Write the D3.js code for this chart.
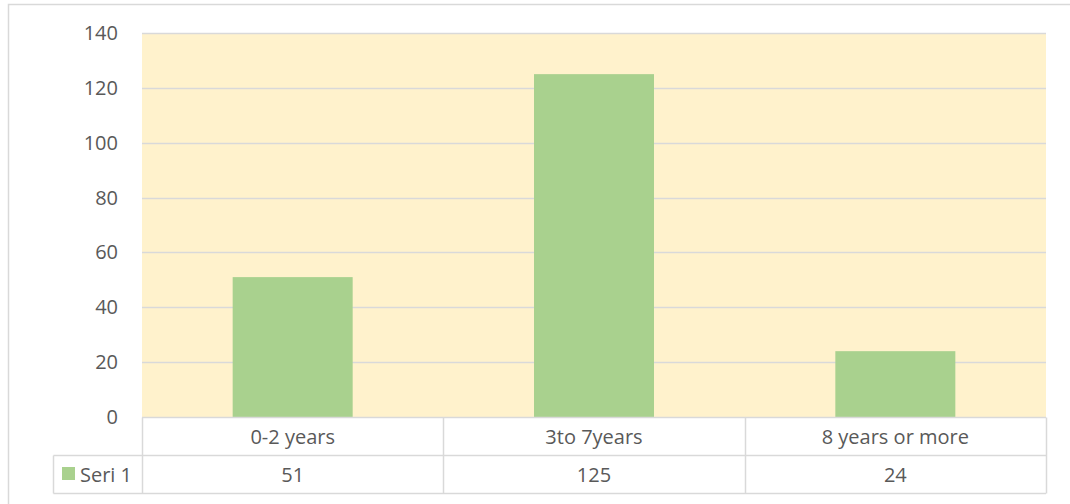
<!DOCTYPE html>
<html>
<head>
<meta charset="utf-8">
<script src="https://cdn.jsdelivr.net/npm/d3@7"></script>
<style>
  body { margin: 0; background: #fff; }
  text { font-family: "Open Sans", "Noto Sans", sans-serif; fill: #595959; }
</style>
</head>
<body>
<div id="chart"></div>
<script>
var categories = ["0-2 years", "3to 7years", "8 years or more"];
var values = [51, 125, 24];
var seriesName = "Seri 1";
var yTicks = [0, 20, 40, 60, 80, 100, 120, 140];

var W = 1070, H = 504;
var plot = { left: 142, top: 33, right: 1046, bottom: 417 };
var rowH = 38;
var fs = "20px";

var svg = d3.select("#chart").append("svg")
  .attr("width", W).attr("height", H);

// outer chart border (runs off the right/bottom edge)
svg.append("rect")
  .attr("x", 8.5).attr("y", 4.5)
  .attr("width", W + 20).attr("height", H + 20)
  .attr("fill", "#fff").attr("stroke", "#d9d9d9").attr("stroke-width", 1.5);

var x = d3.scaleBand().domain(categories)
  .range([plot.left, plot.right]).paddingInner(0).paddingOuter(0);
var y = d3.scaleLinear().domain([0, 140]).range([plot.bottom, plot.top]);

// plot background
svg.append("rect")
  .attr("x", plot.left).attr("y", plot.top)
  .attr("width", plot.right - plot.left).attr("height", plot.bottom - plot.top)
  .attr("fill", "#fff2cc");

// gridlines
svg.selectAll(".grid").data(yTicks.slice(1)).enter().append("line")
  .attr("x1", plot.left).attr("x2", plot.right)
  .attr("y1", function (d) { return Math.round(y(d)) + 0.5; })
  .attr("y2", function (d) { return Math.round(y(d)) + 0.5; })
  .attr("stroke", "#d9d9d9").attr("stroke-width", 1.3);

// y axis labels
svg.selectAll(".ytick").data(yTicks).enter().append("text")
  .attr("x", 118).attr("y", function (d) { return y(d); })
  .attr("dy", "0.35em").attr("text-anchor", "end")
  .style("font-size", fs)
  .text(function (d) { return d; });

// bars
var barW = 120;
svg.selectAll(".bar").data(values).enter().append("rect")
  .attr("x", function (d, i) { return x(categories[i]) + x.bandwidth() / 2 - barW / 2; })
  .attr("y", function (d) { return y(d); })
  .attr("width", barW)
  .attr("height", function (d) { return y(0) - y(d); })
  .attr("fill", "#a9d18e");

// data table
var t0 = plot.bottom + 0.5, t1 = t0 + rowH, t2 = t1 + rowH;
var legendLeft = 53.5;
var g = svg.append("g").attr("stroke", "#d9d9d9").attr("stroke-width", 1.5).attr("fill", "none");
g.append("line").attr("x1", plot.left).attr("x2", plot.right).attr("y1", t0).attr("y2", t0);
g.append("line").attr("x1", legendLeft).attr("x2", plot.right).attr("y1", t1).attr("y2", t1);
g.append("line").attr("x1", legendLeft).attr("x2", plot.right).attr("y1", t2).attr("y2", t2);
g.append("line").attr("x1", legendLeft).attr("x2", legendLeft).attr("y1", t1).attr("y2", t2);
var edges = categories.map(function (c) { return x(c); }).concat([plot.right]);
edges.forEach(function (e) {
  var xe = Math.round(e) + 0.5;
  g.append("line").attr("x1", xe).attr("x2", xe).attr("y1", t0).attr("y2", t2);
});

svg.selectAll(".cat").data(categories).enter().append("text")
  .attr("x", function (d) { return x(d) + x.bandwidth() / 2; })
  .attr("y", (t0 + t1) / 2).attr("dy", "0.35em")
  .attr("text-anchor", "middle").style("font-size", fs)
  .text(function (d) { return d; });

svg.selectAll(".val").data(values).enter().append("text")
  .attr("x", function (d, i) { return x(categories[i]) + x.bandwidth() / 2; })
  .attr("y", (t1 + t2) / 2).attr("dy", "0.35em")
  .attr("text-anchor", "middle").style("font-size", fs)
  .text(function (d) { return d; });

// legend key
svg.append("rect").attr("x", 62).attr("y", 467).attr("width", 13).attr("height", 13)
  .attr("fill", "#a9d18e");
svg.append("text").attr("x", 80).attr("y", (t1 + t2) / 2).attr("dy", "0.35em")
  .style("font-size", fs).text(seriesName);
</script>
</body>
</html>
